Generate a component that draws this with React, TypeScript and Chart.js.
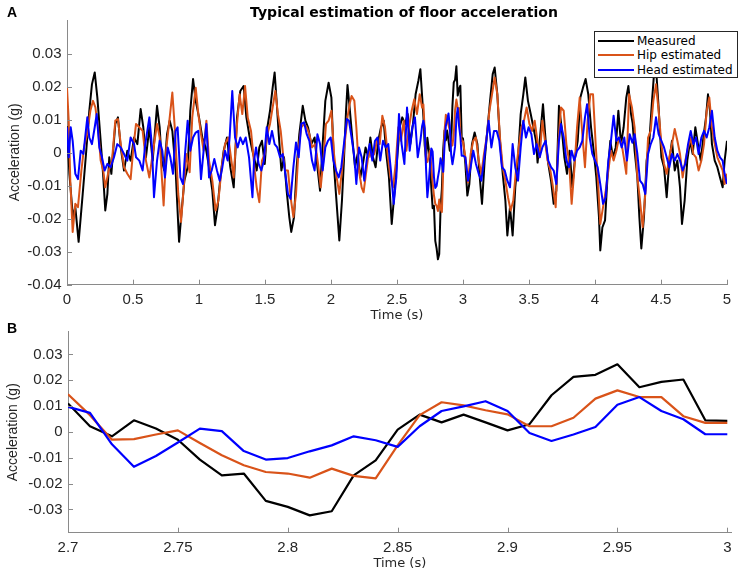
import React, { useEffect, useRef } from 'react';
import { Chart, registerables } from 'chart.js';

Chart.register(...registerables);

// ---------- labels / ticks ----------
const TITLE = 'Typical estimation of floor acceleration';
const SERIES_NAMES = ['Measured', 'Hip estimated', 'Head estimated'];
const SERIES_COLORS = ['#000000', '#D95319', '#0000FF'];

const A_X_TICKS = [0, 0.5, 1, 1.5, 2, 2.5, 3, 3.5, 4, 4.5, 5];
const A_X_LABELS = ['0', '0.5', '1', '1.5', '2', '2.5', '3', '3.5', '4', '4.5', '5'];
const A_Y_TICKS = [-0.04, -0.03, -0.02, -0.01, 0, 0.01, 0.02, 0.03];
const A_Y_LABELS = ['-0.04', '-0.03', '-0.02', '-0.01', '0', '0.01', '0.02', '0.03'];
const B_X_TICKS = [2.7, 2.75, 2.8, 2.85, 2.9, 2.95, 3];
const B_X_LABELS = ['2.7', '2.75', '2.8', '2.85', '2.9', '2.95', '3'];
const B_Y_TICKS = [-0.03, -0.02, -0.01, 0, 0.01, 0.02, 0.03];
const B_Y_LABELS = ['-0.03', '-0.02', '-0.01', '0', '0.01', '0.02', '0.03'];

// ---------- panel B (zoom 2.7 - 3.0 s, 100 Hz) ----------
const B_TIME = [2.7, 2.71, 2.72, 2.73, 2.74, 2.75, 2.76, 2.77, 2.78, 2.79, 2.8, 2.81, 2.82, 2.83, 2.84, 2.85,
  2.86, 2.87, 2.88, 2.89, 2.9, 2.91, 2.92, 2.93, 2.94, 2.95, 2.96, 2.97, 2.98, 2.99, 3.0];
const B_MEASURED = [0.011, 0.0022, -0.0017, 0.0045, 0.0013, -0.003, -0.0107, -0.0168, -0.0161, -0.0267, -0.029,
  -0.0323, -0.0307, -0.0168, -0.011, 0.0009, 0.0067, 0.0037, 0.0067, 0.0037, 0.0006, 0.003, 0.0142, 0.0213,
  0.0221, 0.0262, 0.0173, 0.0194, 0.0203, 0.0045, 0.0043];
const B_HIP = [0.0146, 0.0065, -0.003, -0.0028, -0.001, 0.0006, -0.0043, -0.009, -0.0129, -0.0155, -0.0161,
  -0.0177, -0.0142, -0.017, -0.018, -0.0052, 0.0065, 0.0115, 0.0103, 0.0084, 0.0068, 0.0022, 0.0022, 0.0055,
  0.0129, 0.0161, 0.0135, 0.0135, 0.0061, 0.0035, 0.0035];
const B_HEAD = [0.0097, 0.0074, -0.0048, -0.0135, -0.0093, -0.0041, 0.0013, 0.0003, -0.0074, -0.0107, -0.0101,
  -0.0075, -0.0052, -0.0017, -0.0032, -0.0058, 0.0022, 0.0081, 0.0099, 0.0119, 0.0081, -0.0004, -0.0035, -0.001,
  0.0019, 0.0105, 0.0135, 0.0081, 0.0049, -0.0009, -0.0009];

// ---------- panel A (0 - 5 s), [time, value] read at turning points ----------
const A_MEASURED_1 = [
  [0, 0.008], [0.018, -0.0064], [0.045, -0.0195], [0.063, -0.0165], [0.088, -0.027], [0.119, -0.0125],
  [0.144, -0.0004], [0.169, 0.0127], [0.189, 0.0207], [0.21, 0.0243], [0.23, 0.0167], [0.255, 0.0036],
  [0.275, -0.0075], [0.29, -0.0175], [0.306, -0.0125], [0.32, -0.0014], [0.336, -0.0064], [0.366, 0.0087],
  [0.386, 0.0107], [0.407, 0.0016], [0.432, -0.0054], [0.457, 0.0006], [0.482, -0.0024], [0.508, 0.0046],
  [0.533, 0.0026], [0.558, 0.0132], [0.578, 0.0077], [0.598, -0.0014], [0.624, 0.0077], [0.649, -0.0024],
  [0.682, 0.0142], [0.702, 0.0077], [0.717, -0.0024], [0.737, -0.0054], [0.758, 0.0056], [0.778, 0.0097],
  [0.798, 0.0066], [0.823, -0.0054], [0.849, -0.027], [0.869, -0.0175], [0.889, -0.0085], [0.914, -0.0044],
  [0.934, 0.0127], [0.955, 0.0223], [0.975, 0.0157], [1.0, 0.0107], [1.025, 0.0046], [1.051, 0.0016],
  [1.076, -0.0044], [1.101, -0.0115], [1.121, -0.022], [1.141, -0.0165], [1.162, -0.0075], [1.187, 0.0006],
  [1.212, 0.0046], [1.237, -0.0044], [1.263, -0.0105], [1.288, 0.0107], [1.313, 0.0187], [1.338, 0.0202],
  [1.359, 0.0107], [1.384, 0.0046], [1.405, 0.0005], [1.417, -0.0014], [1.437, -0.0054], [1.457, 0.0016],
  [1.477, 0.0036], [1.498, -0.0034], [1.518, 0.0077], [1.538, 0.0127], [1.558, 0.0197], [1.573, 0.0243],
  [1.588, 0.0157], [1.604, 0.0056], [1.624, -0.0054], [1.644, -0.0014], [1.664, -0.0115], [1.684, -0.0195],
  [1.699, -0.024], [1.72, -0.0195], [1.74, -0.0044], [1.76, 0.0056], [1.786, 0.0142], [1.806, 0.0097],
  [1.826, 0.0077], [1.851, 0.0026], [1.876, 0.0046], [1.897, -0.0044], [1.917, -0.0115], [1.937, 0.0026],
  [1.957, 0.0157], [1.982, 0.0212], [2.003, 0.0167], [2.023, -0.0044], [2.043, -0.0155], [2.063, -0.0266],
  [2.083, -0.0145], [2.098, -0.0024], [2.114, 0.0127], [2.125, 0.0205], [2.141, 0.0137], [2.161, 0.0046],
  [2.182, -0.0044], [2.202, -0.0004], [2.222, -0.0075], [2.242, -0.0034], [2.262, 0.0016], [2.283, -0.0014],
  [2.298, 0.0046], [2.318, -0.0014], [2.338, -0.0044], [2.358, 0.0036], [2.379, 0.0077], [2.399, 0.0097],
  [2.419, -0.0004], [2.439, -0.0075], [2.46, -0.0216], [2.48, -0.0125], [2.5, -0.0024], [2.52, 0.0077],
  [2.54, 0.0107], [2.561, 0.0087], [2.581, 0.0117], [2.601, 0.0026], [2.621, 0.0087], [2.641, 0.0177],
  [2.662, 0.0218], [2.677, 0.0253],
];
const A_MEASURED_2 = [
  [3.018, -0.0034], [3.033, -0.013], [3.048, -0.0095], [3.068, 0.0026], [3.088, 0.0061], [3.109, 0.0026],
  [3.129, -0.0085], [3.144, -0.0155], [3.164, -0.0024], [3.184, 0.0066], [3.205, 0.0157], [3.225, 0.0238],
  [3.24, 0.0258], [3.26, 0.0177], [3.28, 0.0036], [3.301, -0.0064], [3.321, -0.0145], [3.336, -0.0251],
  [3.356, -0.0165], [3.376, -0.0251], [3.396, -0.0105], [3.417, -0.0014], [3.437, 0.0117], [3.457, 0.0177],
  [3.472, 0.0228], [3.492, 0.0157], [3.513, 0.0117], [3.533, 0.0077], [3.553, 0.0036], [3.565, -0.003],
  [3.581, 0.0036], [3.606, 0.0147], [3.626, 0.0036], [3.646, -0.0034], [3.667, -0.0085], [3.687, -0.0155],
  [3.707, -0.0115], [3.727, 0.0142], [3.747, 0.0077], [3.768, -0.0014], [3.788, -0.0064], [3.808, 0.0006],
  [3.828, -0.0105], [3.849, -0.0014], [3.869, 0.0036], [3.889, 0.0167], [3.909, 0.0197], [3.929, 0.0223],
  [3.949, 0.0177], [3.97, 0.0077], [3.99, 0.0006], [4.01, -0.0075], [4.03, -0.0195], [4.04, -0.0296],
  [4.056, -0.0226], [4.076, -0.0205], [4.096, -0.0064], [4.116, 0.0036], [4.136, -0.0014], [4.157, 0.0016],
  [4.177, 0.0127], [4.197, 0.0026], [4.217, 0.0077], [4.237, 0.0167], [4.253, 0.0202], [4.273, 0.0117],
  [4.285, 0.009], [4.3, 0.0006], [4.321, -0.0075], [4.336, -0.0195], [4.351, -0.029], [4.371, -0.0195],
  [4.391, -0.0024], [4.412, 0.0036], [4.432, 0.0157], [4.447, 0.0238], [4.462, 0.0258], [4.482, 0.0137],
  [4.503, -0.0014], [4.523, -0.0044], [4.543, -0.0135], [4.563, -0.0024], [4.583, 0.0036], [4.604, -0.0054],
  [4.624, -0.0024], [4.644, -0.0105], [4.659, -0.0216], [4.679, -0.0145], [4.699, -0.0024], [4.72, 0.0036],
  [4.74, -0.0004], [4.76, 0.0077], [4.78, 0.0026], [4.801, -0.0024], [4.821, 0.0046], [4.841, 0.0107],
  [4.856, 0.0177], [4.871, 0.0127], [4.886, 0.0026], [4.907, -0.0024], [4.927, -0.0044], [4.947, -0.0075],
  [4.967, -0.0105], [4.982, -0.0024], [5.0, 0.0036],
];
const A_HIP_1 = [
  [0, 0.0197], [0.013, 0.0097], [0.025, -0.0085], [0.043, -0.024], [0.063, -0.0155], [0.083, -0.0165],
  [0.109, -0.0054], [0.129, 0.0016], [0.152, 0.0056], [0.177, 0.0127], [0.197, 0.0157], [0.215, 0.0137],
  [0.235, 0.0077], [0.255, -0.0024], [0.275, -0.0054], [0.29, -0.0105], [0.316, -0.0054], [0.341, -0.0024],
  [0.366, 0.0097], [0.386, 0.0102], [0.407, 0.0026], [0.432, -0.0044], [0.457, -0.0064], [0.482, -0.008],
  [0.503, 0.0016], [0.523, 0.0087], [0.548, 0.0077], [0.573, 0.0066], [0.598, -0.0024], [0.624, -0.0075],
  [0.649, -0.0004], [0.682, 0.0087], [0.702, 0.0046], [0.717, -0.0064], [0.732, -0.016], [0.753, 0.0016],
  [0.773, 0.0087], [0.798, 0.0182], [0.818, 0.0066], [0.843, -0.0125], [0.864, -0.021], [0.884, -0.0105],
  [0.904, -0.0004], [0.929, -0.0059], [0.949, 0.0107], [0.975, 0.0197], [0.995, 0.0117], [1.015, 0.0056],
  [1.035, 0.0006], [1.056, 0.0097], [1.076, -0.0024], [1.101, -0.0085], [1.126, -0.0175], [1.147, -0.0145],
  [1.172, -0.0044], [1.197, 0.0026], [1.222, 0.0046], [1.242, -0.0014], [1.263, -0.0075], [1.288, 0.0087],
  [1.308, 0.0177], [1.328, 0.0117], [1.349, 0.0202], [1.369, 0.0107], [1.394, 0.0066], [1.405, 0.002],
  [1.422, -0.0054], [1.437, -0.0105], [1.457, -0.015], [1.477, -0.0024], [1.498, -0.0004], [1.518, 0.0056],
  [1.538, 0.0087], [1.558, 0.0137], [1.578, 0.0187], [1.598, 0.0117], [1.619, 0.0066], [1.639, -0.0014],
  [1.654, -0.0054], [1.674, -0.0054], [1.694, -0.0135], [1.715, -0.0195], [1.735, -0.0125], [1.755, 0.0016],
  [1.775, 0.0077], [1.796, 0.0087], [1.816, 0.0077], [1.836, 0.0056], [1.856, 0.0016], [1.881, 0.0026],
  [1.902, -0.0034], [1.922, -0.0105], [1.942, -0.0024], [1.962, 0.0087], [1.982, 0.0097], [2.003, 0.0127],
  [2.023, -0.0004], [2.043, -0.0075], [2.063, -0.0125], [2.083, -0.0054], [2.103, 0.0026], [2.125, 0.0107],
  [2.141, 0.0147], [2.156, 0.0172], [2.177, 0.0157], [2.192, 0.0077], [2.212, -0.0054], [2.232, -0.0105],
  [2.247, -0.012], [2.268, -0.0054], [2.288, 0.0006], [2.308, -0.0014], [2.328, -0.0004], [2.348, 0.0036],
  [2.369, 0.0026], [2.389, 0.0112], [2.409, 0.0077], [2.429, -0.0004], [2.45, -0.0075], [2.47, -0.0105],
  [2.49, -0.0034], [2.51, 0.0077], [2.53, 0.0036], [2.551, 0.0097], [2.571, 0.0006], [2.591, 0.0077],
  [2.611, 0.0127], [2.631, 0.0162], [2.651, 0.0117], [2.672, 0.0177], [2.69, 0.0137],
];
const A_HIP_2 = [
  [3.018, -0.0014], [3.038, -0.009], [3.058, -0.0004], [3.078, 0.0036], [3.098, 0.0046], [3.119, -0.0024],
  [3.139, -0.0064], [3.159, -0.0004], [3.179, 0.0046], [3.2, 0.0127], [3.22, 0.0177], [3.24, 0.0228],
  [3.26, 0.0177], [3.28, 0.0046], [3.301, -0.0044], [3.321, -0.0085], [3.341, -0.0135], [3.361, -0.0175],
  [3.381, -0.0145], [3.401, -0.0054], [3.422, 0.0016], [3.442, 0.0077], [3.462, 0.0097], [3.482, 0.0137],
  [3.503, 0.0087], [3.523, 0.0066], [3.543, 0.0097], [3.562, 0.004], [3.581, -0.0014], [3.601, 0.0097],
  [3.621, 0.0036], [3.641, -0.0024], [3.662, -0.0054], [3.682, -0.0105], [3.702, -0.0165], [3.722, 0.0026],
  [3.742, 0.0137], [3.763, 0.0127], [3.783, 0.0026], [3.803, -0.0024], [3.823, -0.0155], [3.843, -0.0054],
  [3.864, 0.0077], [3.884, 0.0167], [3.904, 0.0056], [3.924, -0.0044], [3.944, 0.0097], [3.965, 0.0177],
  [3.985, 0.0177], [4.005, 0.0026], [4.025, -0.0105], [4.04, -0.0216], [4.061, -0.0165], [4.081, -0.0115],
  [4.101, -0.0054], [4.121, 0.0006], [4.141, -0.0024], [4.162, 0.0006], [4.182, 0.0046], [4.202, 0.0026],
  [4.222, -0.0024], [4.237, -0.0064], [4.258, 0.0177], [4.28, 0.0137], [4.3, 0.0077], [4.321, -0.0075],
  [4.341, -0.0145], [4.361, -0.0226], [4.381, -0.0125], [4.402, 0.0046], [4.422, 0.0066], [4.442, 0.0157],
  [4.462, 0.0207], [4.482, 0.0127], [4.503, 0.0026], [4.523, -0.0034], [4.543, -0.0064], [4.563, -0.0014],
  [4.583, 0.0026], [4.604, 0.0072], [4.624, 0.0036], [4.644, -0.0004], [4.664, -0.0075], [4.684, -0.0024],
  [4.705, 0.0016], [4.725, 0.0046], [4.745, -0.0004], [4.765, -0.0014], [4.785, -0.0054], [4.806, -0.0024],
  [4.826, 0.0026], [4.846, 0.0127], [4.866, 0.0167], [4.886, 0.0077], [4.907, 0.0026], [4.927, -0.0014],
  [4.947, -0.0034], [4.967, -0.0054], [4.982, -0.0095], [5.0, -0.0064],
];
const A_HEAD_1 = [
  [0, 0.0077], [0.013, -0.0014], [0.028, 0.0077], [0.043, 0.0036], [0.063, -0.0064], [0.083, -0.008],
  [0.104, 0.0006], [0.124, -0.0004], [0.154, 0.0107], [0.169, 0.0046], [0.189, 0.0026], [0.21, 0.0077],
  [0.225, 0.0117], [0.245, 0.0016], [0.265, -0.0014], [0.285, -0.0054], [0.306, -0.0034], [0.331, -0.0044],
  [0.356, -0.0014], [0.381, 0.0026], [0.407, 0.0016], [0.432, -0.0004], [0.457, -0.0024], [0.482, 0.0046],
  [0.508, 0.0026], [0.523, -0.0014], [0.548, -0.0024], [0.573, -0.0054], [0.593, 0.0026], [0.624, 0.0107],
  [0.644, 0.0016], [0.659, -0.0135], [0.682, -0.0024], [0.702, 0.0036], [0.722, 0.0006], [0.742, -0.0075],
  [0.763, 0.0016], [0.783, -0.0014], [0.803, -0.0064], [0.823, 0.0066], [0.838, 0.0077], [0.859, -0.0075],
  [0.879, -0.0095], [0.894, -0.0004], [0.914, 0.0097], [0.934, 0.0006], [0.955, 0.0046], [0.975, 0.0061],
  [0.995, 0.0066], [1.015, -0.008], [1.035, 0.0006], [1.056, 0.0087], [1.076, -0.0075], [1.096, -0.0054],
  [1.116, -0.0019], [1.136, -0.0054], [1.157, -0.0085], [1.177, -0.0044], [1.197, 0.0006], [1.217, -0.0024],
  [1.232, 0.0046], [1.252, 0.0187], [1.273, 0.0046], [1.293, 0.0016], [1.313, 0.0046], [1.333, 0.0026],
  [1.354, 0.0046], [1.379, -0.0014], [1.405, -0.0135], [1.417, -0.0024], [1.432, 0.0016], [1.452, -0.0034],
  [1.472, -0.0054], [1.492, -0.0024], [1.513, 0.0077], [1.533, 0.0026], [1.553, 0.0066], [1.573, 0.0026],
  [1.593, 0.0016], [1.614, -0.0014], [1.634, -0.0004], [1.654, -0.0064], [1.674, -0.0125], [1.694, -0.014],
  [1.715, -0.0044], [1.735, 0.0031], [1.755, -0.0014], [1.775, 0.0087], [1.796, 0.0092], [1.816, 0.0056],
  [1.836, 0.0036], [1.856, -0.0024], [1.876, -0.0054], [1.897, 0.0056], [1.917, 0.0026], [1.937, -0.0054],
  [1.957, 0.0016], [1.977, 0.0036], [1.998, 0.0046], [2.018, -0.0024], [2.038, -0.0054], [2.058, -0.0075],
  [2.078, -0.0044], [2.098, 0.0026], [2.12, 0.0102], [2.136, 0.0097], [2.156, 0.0046], [2.177, -0.0014],
  [2.192, -0.0095], [2.212, 0.0016], [2.232, -0.0014], [2.252, -0.0085], [2.273, -0.0014], [2.293, 0.0026],
  [2.313, -0.0024], [2.333, 0.0036], [2.353, 0.0046], [2.373, -0.0024], [2.394, 0.0036], [2.414, 0.0016],
  [2.434, 0.0026], [2.454, -0.0054], [2.475, -0.0155], [2.495, -0.0075], [2.515, 0.0117], [2.535, 0.0026],
  [2.556, -0.0034], [2.576, 0.0137], [2.596, 0.0006], [2.616, 0.0077], [2.636, 0.0107], [2.657, -0.0014],
  [2.677, 0.0036], [2.69, 0.008],
];
const A_HEAD_2 = [
  [3.018, -0.0014], [3.038, -0.0085], [3.058, -0.0044], [3.078, 0.0006], [3.098, -0.0034], [3.119, -0.0064],
  [3.139, -0.0085], [3.159, -0.0024], [3.179, 0.0046], [3.194, 0.0097], [3.215, 0.0016], [3.235, 0.0066],
  [3.255, 0.0066], [3.275, 0.0036], [3.295, -0.0044], [3.316, -0.0054], [3.336, -0.0085], [3.356, -0.0105],
  [3.376, 0.0026], [3.396, -0.0044], [3.417, -0.0085], [3.437, 0.0016], [3.457, 0.0097], [3.477, 0.0046],
  [3.497, 0.0077], [3.518, 0.0056], [3.538, -0.0004], [3.558, 0.0026], [3.581, -0.0014], [3.601, 0.0016],
  [3.626, 0.0036], [3.646, -0.0024], [3.667, -0.0044], [3.687, -0.0054], [3.707, -0.0095], [3.727, 0.0036],
  [3.742, 0.0087], [3.763, 0.0046], [3.783, -0.0024], [3.803, -0.0044], [3.823, 0.0006], [3.843, -0.0024],
  [3.864, 0.0006], [3.884, 0.0016], [3.904, 0.0036], [3.924, 0.0107], [3.94, 0.0147], [3.96, 0.0046],
  [3.98, -0.0004], [4.0, -0.0024], [4.02, -0.0044], [4.04, -0.0095], [4.061, -0.0155], [4.081, -0.0135],
  [4.101, -0.0024], [4.121, 0.0036], [4.141, 0.0112], [4.162, 0.0036], [4.182, 0.0046], [4.202, 0.0016],
  [4.222, 0.0046], [4.242, -0.0024], [4.263, 0.0056], [4.283, 0.003], [4.3, 0.0056], [4.321, -0.0004],
  [4.341, -0.0085], [4.361, -0.0095], [4.381, -0.0125], [4.402, -0.0004], [4.422, 0.0026], [4.442, 0.0046],
  [4.462, 0.0107], [4.482, 0.0056], [4.503, 0.0036], [4.523, 0.0016], [4.543, -0.0014], [4.563, -0.0044],
  [4.583, -0.0004], [4.604, -0.0024], [4.624, -0.0004], [4.644, -0.0024], [4.664, -0.0054], [4.684, -0.0034],
  [4.705, 0.0026], [4.725, 0.0066], [4.745, 0.0026], [4.765, 0.0046], [4.785, -0.0004], [4.806, 0.0046],
  [4.826, 0.0066], [4.846, 0.0046], [4.866, 0.0077], [4.886, 0.0127], [4.907, 0.0046], [4.927, 0.0006],
  [4.947, -0.0014], [4.967, -0.0024], [4.982, -0.0064], [5.0, -0.0095],
];

// ---------- helpers ----------
const TICK_FONT = '"Liberation Sans", Arial, Helvetica, sans-serif';
const VERDANA = '"DejaVu Sans", Verdana, sans-serif';
const AXIS_GRAY = '#8a8a8a';
const TEXT_COLOR = '#262626';

const pairsToXY = (pairs: number[][]) => pairs.map(([x, y]) => ({ x, y }));
const zipXY = (xs: number[], ys: number[]) => xs.map((x, i) => ({ x, y: ys[i] }));

const inwardTicks = {
  id: 'inwardTicks',
  afterDatasetsDraw(chart: any, _args: any, opts: any) {
    const { ctx, chartArea, scales } = chart;
    ctx.save();
    ctx.strokeStyle = opts.color;
    ctx.lineWidth = 1;
    ctx.beginPath();
    for (const v of opts.xTicks) {
      const x = Math.round(scales.x.getPixelForValue(v)) + 0.5;
      ctx.moveTo(x, chartArea.bottom);
      ctx.lineTo(x, chartArea.bottom - opts.len);
    }
    for (const v of opts.yTicks) {
      const y = Math.round(scales.y.getPixelForValue(v)) + 0.5;
      ctx.moveTo(chartArea.left, y);
      ctx.lineTo(chartArea.left + opts.len, y);
    }
    ctx.stroke();
    ctx.restore();
  },
};

type PanelSpec = {
  height: number;
  padTop: number;
  padRight: number;
  yWidth: number;
  xHeight: number;
  xMin: number;
  xMax: number;
  yMin: number;
  yMax: number;
  xTicks: number[];
  xLabels: string[];
  yTicks: number[];
  yLabels: string[];
  series: { x: number; y: number }[][];
  xTitlePadBottom: number;
  yTitlePadTop: number;
  lineWidth: number;
};

function buildConfig(p: PanelSpec): any {
  // draw order: Head on top, then Hip, then Measured
  const order = [2, 1, 0];
  return {
    type: 'line',
    data: {
      datasets: order.map((i) => ({
        label: SERIES_NAMES[i],
        data: p.series[i],
        borderColor: SERIES_COLORS[i],
        backgroundColor: SERIES_COLORS[i],
        borderWidth: p.lineWidth,
        pointRadius: 0,
        tension: 0,
        fill: false,
        borderJoinStyle: 'round',
      })),
    },
    options: {
      responsive: false,
      animation: false,
      parsing: true,
      layout: { padding: { top: p.padTop, right: p.padRight, left: 0, bottom: 0 } },
      plugins: {
        legend: { display: false },
        title: { display: false },
        tooltip: { enabled: false },
        inwardTicks: { xTicks: p.xTicks, yTicks: p.yTicks, len: 5, color: AXIS_GRAY },
      },
      scales: {
        x: {
          type: 'linear',
          min: p.xMin,
          max: p.xMax,
          grid: { display: false, drawTicks: false },
          border: { display: true, color: AXIS_GRAY, width: 1 },
          afterBuildTicks: (s: any) => {
            s.ticks = p.xTicks.map((v) => ({ value: v }));
          },
          afterFit: (s: any) => {
            s.height = p.xHeight;
          },
          ticks: {
            autoSkip: false,
            maxRotation: 0,
            padding: 6,
            color: TEXT_COLOR,
            font: { family: TICK_FONT, size: 15 },
            callback: (_v: any, idx: number) => p.xLabels[idx],
          },
          title: {
            display: true,
            text: 'Time (s)',
            color: TEXT_COLOR,
            font: { family: VERDANA, size: 13 },
            padding: { top: 0, bottom: p.xTitlePadBottom },
          },
        },
        y: {
          type: 'linear',
          min: p.yMin,
          max: p.yMax,
          grid: { display: false, drawTicks: false },
          border: { display: true, color: AXIS_GRAY, width: 1 },
          afterBuildTicks: (s: any) => {
            s.ticks = p.yTicks.map((v) => ({ value: v }));
          },
          afterFit: (s: any) => {
            s.width = p.yWidth;
          },
          ticks: {
            autoSkip: false,
            padding: 5.5,
            color: TEXT_COLOR,
            font: { family: TICK_FONT, size: 15 },
            callback: (_v: any, idx: number) => p.yLabels[idx],
          },
          title: {
            display: true,
            text: 'Acceleration (g)',
            color: TEXT_COLOR,
            font: { family: TICK_FONT, size: 14 },
            padding: { top: p.yTitlePadTop, bottom: 0 },
          },
        },
      },
    },
    plugins: [inwardTicks],
  };
}

const PANEL_A: PanelSpec = {
  height: 325,
  padTop: 20,
  padRight: 16,
  yWidth: 67,
  xHeight: 325 - 284.7,
  xMin: 0,
  xMax: 5,
  yMin: -0.04,
  yMax: 0.0402,
  xTicks: A_X_TICKS,
  xLabels: A_X_LABELS,
  yTicks: A_Y_TICKS,
  yLabels: A_Y_LABELS,
  series: [
    [...pairsToXY(A_MEASURED_1), ...zipXY(B_TIME, B_MEASURED), ...pairsToXY(A_MEASURED_2)],
    [...pairsToXY(A_HIP_1), ...zipXY(B_TIME, B_HIP), ...pairsToXY(A_HIP_2)],
    [...pairsToXY(A_HEAD_1), ...zipXY(B_TIME, B_HEAD), ...pairsToXY(A_HEAD_2)],
  ],
  xTitlePadBottom: 1.2,
  yTitlePadTop: 7,
  lineWidth: 2,
};

const PANEL_B: PanelSpec = {
  height: 276,
  padTop: 31.7,
  padRight: 11.3,
  yWidth: 68,
  xHeight: 276 - 232.7,
  xMin: 2.7,
  xMax: 3.002,
  yMin: -0.039,
  yMax: 0.0388,
  xTicks: B_X_TICKS,
  xLabels: B_X_LABELS,
  yTicks: B_Y_TICKS,
  yLabels: B_Y_LABELS,
  series: [zipXY(B_TIME, B_MEASURED), zipXY(B_TIME, B_HIP), zipXY(B_TIME, B_HEAD)],
  xTitlePadBottom: 4.2,
  yTitlePadTop: 5,
  lineWidth: 2.2,
};

function Panel({ spec, top }: { spec: PanelSpec; top: number }) {
  const ref = useRef<HTMLCanvasElement | null>(null);
  useEffect(() => {
    if (!ref.current) return;
    const chart = new Chart(ref.current, buildConfig(spec));
    return () => chart.destroy();
  }, [spec]);
  return (
    <canvas
      ref={ref}
      width={743}
      height={spec.height}
      style={{ position: 'absolute', left: 0, top, width: 743, height: spec.height }}
    />
  );
}

export default function App() {
  const legendRows = [10, 24, 39];
  return (
    <div
      style={{
        position: 'fixed',
        left: 0,
        top: 0,
        width: 743,
        height: 576,
        background: '#ffffff',
        overflow: 'hidden',
      }}
    >
      <Panel spec={PANEL_A} top={0} />
      <Panel spec={PANEL_B} top={300} />
      <div
        style={{
          position: 'absolute',
          left: 7,
          top: 5,
          font: `bold 14px/14px ${TICK_FONT}`,
          color: '#000',
        }}
      >
        A
      </div>
      <div
        style={{
          position: 'absolute',
          left: 7,
          top: 321,
          font: `bold 14px/14px ${TICK_FONT}`,
          color: '#000',
        }}
      >
        B
      </div>
      <div
        style={{
          position: 'absolute',
          left: 404,
          top: 5,
          transform: 'translateX(-50%)',
          whiteSpace: 'nowrap',
          font: `bold 14px/14px ${VERDANA}`,
          color: '#000',
        }}
      >
        {TITLE}
      </div>
      <div
        style={{
          position: 'absolute',
          left: 594,
          top: 31,
          width: 144,
          height: 47,
          boxSizing: 'border-box',
          border: '1px solid #262626',
          background: '#ffffff',
        }}
      >
        {SERIES_NAMES.map((name, i) => (
          <React.Fragment key={name}>
            <div
              style={{
                position: 'absolute',
                left: 3,
                top: legendRows[i] - 2,
                width: 36,
                height: 2,
                background: SERIES_COLORS[i],
              }}
            />
            <div
              style={{
                position: 'absolute',
                left: 42,
                top: legendRows[i] - 8,
                height: 14,
                font: `12px/14px ${VERDANA}`,
                color: '#000',
                whiteSpace: 'nowrap',
              }}
            >
              {name}
            </div>
          </React.Fragment>
        ))}
      </div>
    </div>
  );
}
